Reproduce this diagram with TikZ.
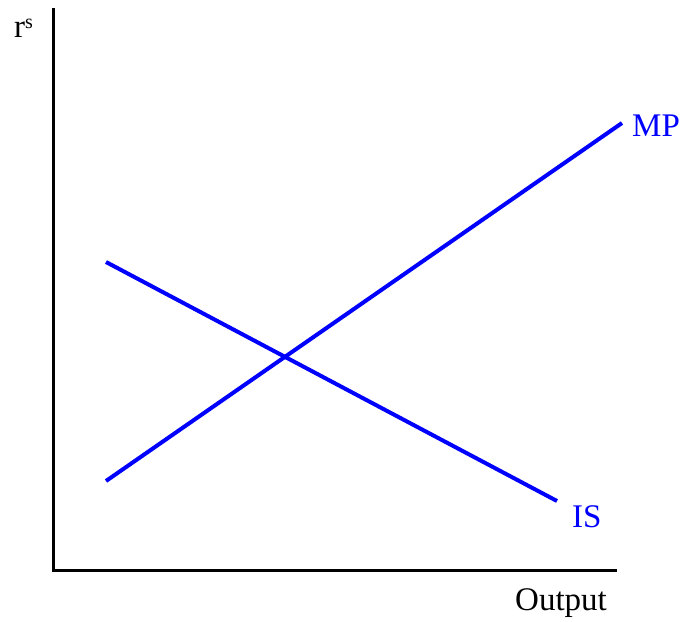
\documentclass[tikz,border=0pt]{standalone}
\usepackage{fontspec}
\setmainfont{Liberation Serif}
\begin{document}
\begin{tikzpicture}[
    x=1pt, y=-1pt,
    axis/.style={draw,line width=3pt},
    curve/.style={draw,blue,line width=4pt},
    every node/.style={inner sep=0pt,anchor=base west,font=\fontsize{33}{36}\selectfont}
]
\useasboundingbox (0,0) rectangle (685,621);
\coordinate (top) at (53,8);
\coordinate (origin) at (53,570);
\coordinate (right) at (617,570);
\coordinate (mp0) at (106,481);
\coordinate (mp1) at (622,123);
\coordinate (is0) at (106,262);
\coordinate (is1) at (557,501);
\draw[axis] (top) -- (origin) -- (right);
\draw[curve] (mp0) -- (mp1);
\draw[curve] (is0) -- (is1);
\node (rlabel) at (14,37) {r\raisebox{9pt}{\fontsize{20}{22}\selectfont s}};
\node[blue] (mplabel) at (632,136) {MP};
\node[blue] (islabel) at (572,527) {IS};
\node (xlabel) at (515,610) {Output};
\end{tikzpicture}
\end{document}
